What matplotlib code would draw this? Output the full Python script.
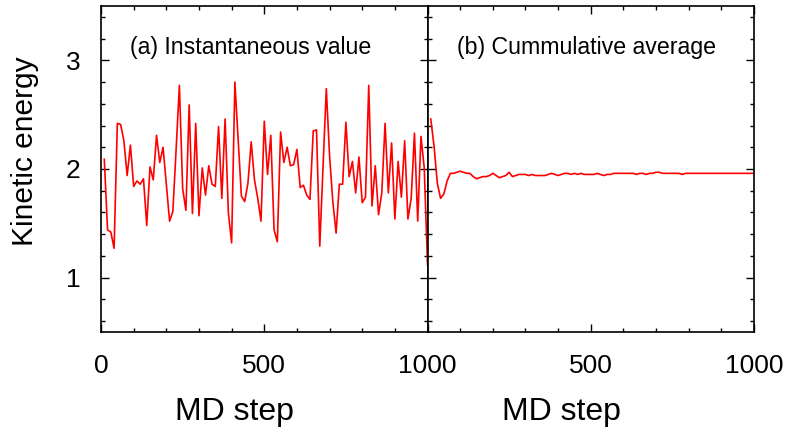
import numpy as np
import matplotlib
matplotlib.use("Agg")
import matplotlib.pyplot as plt
from matplotlib.ticker import MultipleLocator

plt.rcParams['font.family'] = ['Liberation Sans', 'DejaVu Sans']

# MD steps (sampled every 10 steps)
steps = np.arange(10, 1001, 10)

# (a) instantaneous kinetic energy
ke_inst = [2.09, 1.44, 1.42, 1.27, 2.42, 2.41, 2.26, 1.94, 2.22, 1.84,
           1.89, 1.86, 1.91, 1.48, 2.02, 1.90, 2.31, 2.06, 2.20, 1.86,
           1.52, 1.61, 2.18, 2.77, 1.82, 1.62, 2.59, 1.59, 2.42, 1.57,
           2.01, 1.76, 2.03, 1.86, 1.84, 2.39, 1.73, 2.46, 1.60, 1.32,
           2.80, 2.27, 1.75, 1.70, 1.87, 2.25, 1.90, 1.73, 1.52, 2.44,
           1.95, 2.31, 1.44, 1.33, 2.34, 2.06, 2.20, 2.03, 2.04, 2.18,
           1.83, 1.85, 1.76, 1.72, 2.35, 2.36, 1.29, 2.02, 2.74, 2.12,
           1.70, 1.41, 1.86, 1.86, 2.43, 1.93, 2.07, 1.78, 2.11, 1.69,
           1.74, 2.77, 1.66, 2.03, 1.58, 1.78, 2.42, 1.78, 2.24, 1.54,
           2.07, 1.74, 2.26, 1.54, 1.73, 2.33, 1.52, 2.30, 2.01, 1.12]

# (b) cumulative average
ke_avg = [2.46, 2.21, 1.87, 1.73, 1.77, 1.89, 1.96, 1.96, 1.97, 1.98,
          1.97, 1.96, 1.96, 1.93, 1.91, 1.92, 1.93, 1.93, 1.94, 1.96,
          1.94, 1.92, 1.93, 1.94, 1.97, 1.93, 1.94, 1.95, 1.95, 1.95,
          1.94, 1.95, 1.94, 1.94, 1.94, 1.94, 1.95, 1.96, 1.95, 1.94,
          1.95, 1.96, 1.96, 1.95, 1.96, 1.95, 1.96, 1.95, 1.95, 1.95,
          1.95, 1.96, 1.95, 1.94, 1.95, 1.95, 1.96, 1.96, 1.96, 1.96,
          1.96, 1.96, 1.96, 1.95, 1.96, 1.96, 1.95, 1.96, 1.96, 1.97,
          1.97, 1.96, 1.96, 1.96, 1.96, 1.96, 1.96, 1.95, 1.96, 1.96,
          1.96, 1.96, 1.96, 1.96, 1.96, 1.96, 1.96, 1.96, 1.96, 1.96,
          1.96, 1.96, 1.96, 1.96, 1.96, 1.96, 1.96, 1.96, 1.96, 1.96]

panel_titles = ["(a) Instantaneous value", "(b) Cummulative average"]

fig, axes = plt.subplots(1, 2, figsize=(7.85, 4.42), dpi=100, sharey=True)
fig.subplots_adjust(left=0.1287, right=0.9605, top=0.9864, bottom=0.2489, wspace=0)

for ax, ys, title in zip(axes, [ke_inst, ke_avg], panel_titles):
    ax.plot(steps, ys, color='#ff0000', linewidth=1.2)
    ax.set_xlim(0, 1000)
    ax.set_ylim(0.5, 3.5)
    ax.xaxis.set_major_locator(MultipleLocator(500))
    ax.xaxis.set_minor_locator(MultipleLocator(100))
    ax.yaxis.set_major_locator(MultipleLocator(1))
    ax.yaxis.set_minor_locator(MultipleLocator(0.2))
    ax.tick_params(which='both', direction='in', top=True, right=True,
                   width=1.0, labelsize=19)
    ax.tick_params(which='major', length=6)
    ax.tick_params(which='minor', length=3)
    ax.tick_params(axis='x', pad=16)
    ax.tick_params(axis='y', pad=15)
    for sp in ax.spines.values():
        sp.set_linewidth(1.2)
    ax.text(0.089, 0.874, title, transform=ax.transAxes, fontsize=16.7,
            ha='left', va='center')
    ax.set_xlabel("MD step", fontsize=23)
    ax.xaxis.set_label_coords(0.41, -0.2)

axes[1].tick_params(axis='y', labelleft=False)
axes[1].set_xticks([0, 500, 1000])
axes[1].set_xticklabels(["", "500", "1000"])

axes[0].set_ylabel("Kinetic energy", fontsize=21.5)
axes[0].yaxis.set_label_coords(-0.19, 0.555)

fig.savefig("out.png", dpi=100)
